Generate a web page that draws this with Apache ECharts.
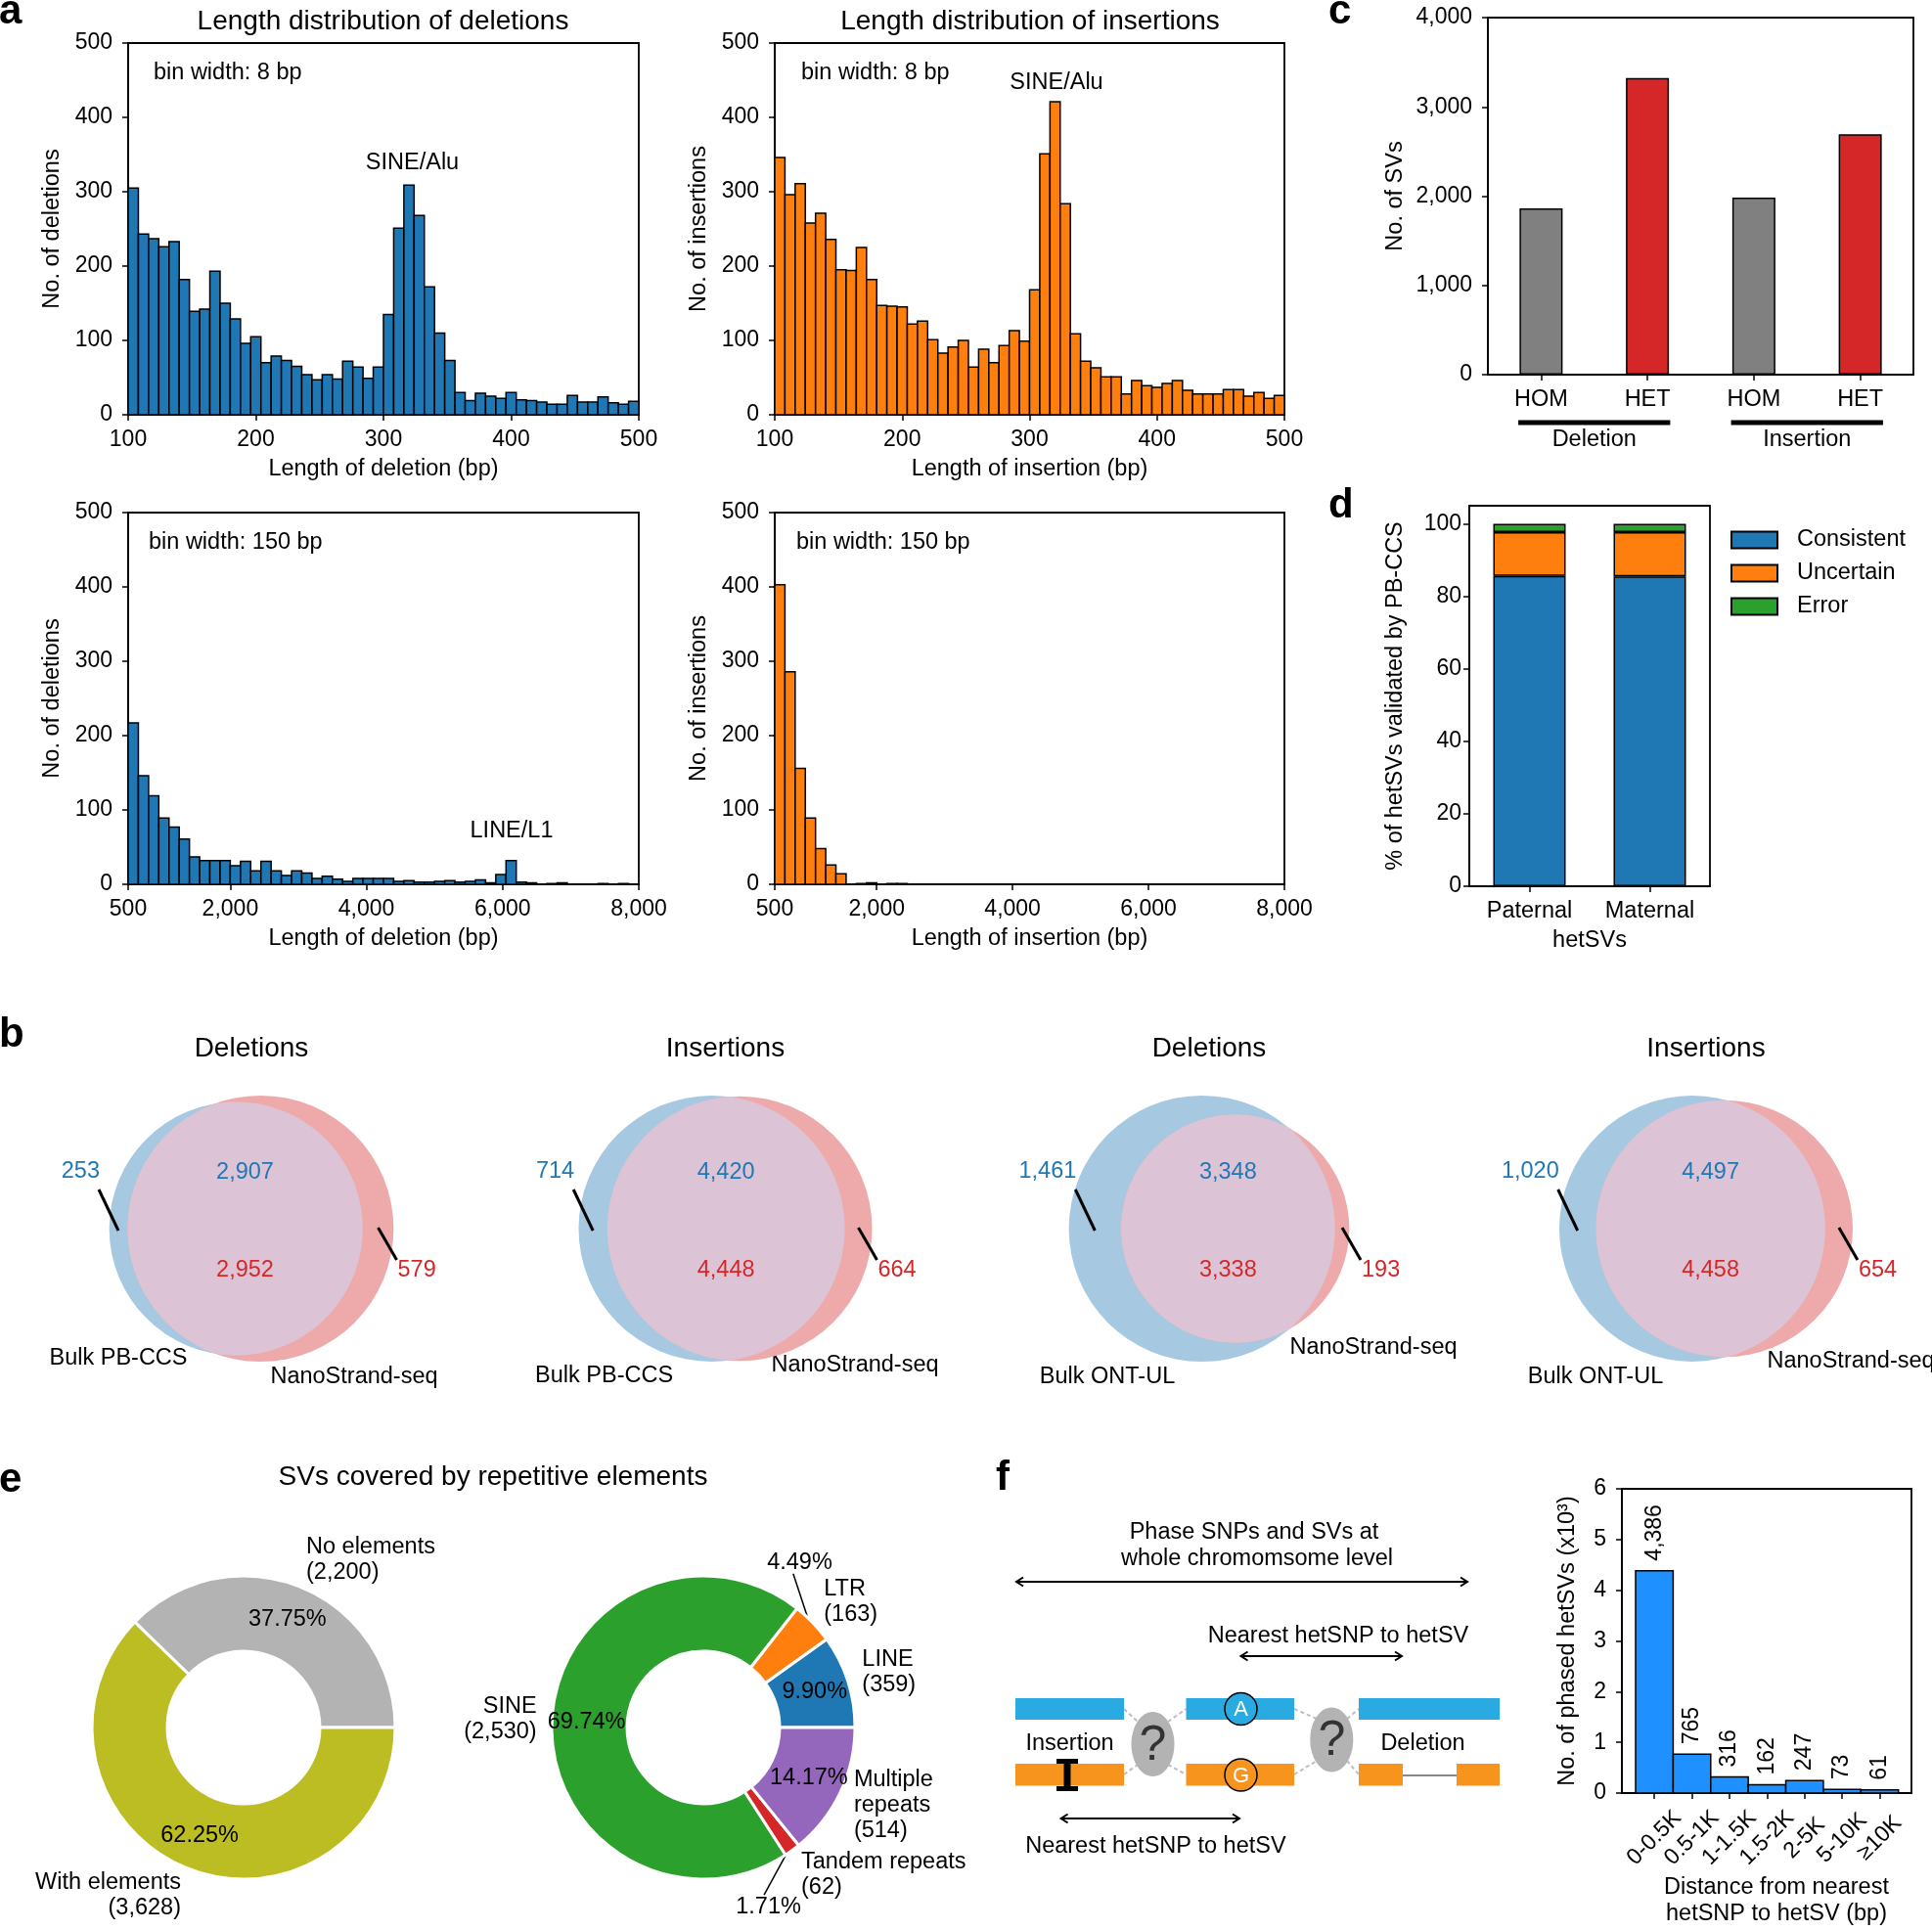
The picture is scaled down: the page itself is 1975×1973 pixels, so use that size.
<!DOCTYPE html>
<html>
<head>
<meta charset="utf-8">
<title>SV characterisation</title>
<script src="https://cdn.jsdelivr.net/npm/echarts@6.0.0/dist/echarts.min.js"></script>
<style>
  html, body { margin: 0; padding: 0; background: #fff; }
  #chart { width: 1975px; height: 1973px; }
</style>
</head>
<body>
<div id="chart"></div>
<script>
// ---------- data ----------
// panel a: length histograms (50 bins each)
const shortStart = 100, shortBin = 8;
const longStart = 500, longBin = 150;
const delShortCounts = [305, 243, 237, 226, 233, 182, 139, 142, 193, 150, 129, 96, 105, 70, 79, 73, 65, 54, 47, 54,
  48, 72, 64, 49, 64, 135, 251, 309, 268, 172, 110, 73, 30, 19, 29, 25, 22, 30, 20, 19,
  17, 14, 14, 26, 17, 17, 24, 16, 14, 18];
const insShortCounts = [346, 296, 311, 258, 271, 236, 195, 194, 225, 182, 147, 146, 145, 122, 126, 101, 83, 91, 100, 64,
  88, 70, 93, 113, 99, 168, 351, 421, 284, 109, 72, 63, 51, 51, 28, 46, 39, 37, 42, 46,
  33, 28, 28, 28, 34, 34, 25, 30, 22, 26];
const delLongCounts = [217, 146, 119, 89, 77, 61, 37, 32, 32, 32, 25, 31, 18, 31, 18, 12, 18, 15, 8, 11,
  7, 4, 8, 8, 8, 8, 4, 5, 3, 3, 4, 5, 3, 4, 6, 2, 13, 32, 3, 2,
  0, 1, 2, 0, 0, 0, 1, 0, 1, 0];
const insLongCounts = [403, 286, 156, 89, 48, 26, 14, 0, 1, 2, 0, 1, 1, 0, 0, 0, 0, 0, 0, 0,
  0, 0, 0, 0, 0, 0, 0, 0, 0, 0, 0, 0, 0, 0, 0, 0, 0, 0, 0, 0,
  0, 0, 0, 0, 0, 0, 0, 0, 0, 0];
const longTicks = [500, 2000, 4000, 6000, 8000];

// panel c
const svTypes = ['Deletion', 'Insertion'];
const genotypes = ['HOM', 'HET'];
const homCounts = [1863, 1984];
const hetCounts = [3324, 2692];

// panel d
const parents = ['Paternal', 'Maternal'];
const consistentPct = [85.6, 85.5];
const uncertainPct = [12.1, 12.2];
const errorPct = [2.3, 2.3];
const pctTicks = [0, 20, 40, 60, 80, 100];

// panel b
const vennTitles = ['Deletions', 'Insertions', 'Deletions', 'Insertions'];
const vennBulkNames = ['Bulk PB-CCS', 'Bulk PB-CCS', 'Bulk ONT-UL', 'Bulk ONT-UL'];
const vennBulkOnly = [253, 714, 1461, 1020];
const vennSharedBulk = [2907, 4420, 3348, 4497];
const vennSharedNano = [2952, 4448, 3338, 4458];
const vennNanoOnly = [579, 664, 193, 654];

// panel e
const coverNames = ['No elements', 'With elements'];
const coverCounts = [2200, 3628];
const repeatNames = ['LINE', 'LTR', 'SINE', 'Tandem repeats', 'Multiple\nrepeats'];
const repeatCounts = [359, 163, 2530, 62, 514];

// panel f
const distBins = ['0-0.5K', '0.5-1K', '1-1.5K', '1.5-2K', '2-5K', '5-10K', '\u226510K'];
const phasedCounts = [4386, 765, 316, 162, 247, 73, 61];

// ---------- style ----------
const FONT = "'Liberation Sans', Arial, Helvetica, sans-serif";
const TICK_FS = 23, NAME_FS = 23.5, TITLE_FS = 28, NOTE_FS = 23.5;
const AXIS_W = 1.8;
const BLUE = '#1f77b4', ORANGE = '#ff7f0e', GREEN = '#2ca02c', RED = '#d62728', PURPLE = '#9467bd';
const fmt = v => Number(v).toLocaleString('en-US');

function merge(base, extra) {
  const out = Object.assign({}, base);
  Object.keys(extra || {}).forEach(k => {
    const v = extra[k];
    const b = base[k];
    out[k] = (v && typeof v === 'object' && !Array.isArray(v) && b && typeof b === 'object' && !Array.isArray(b)) ? merge(b, v) : v;
  });
  return out;
}

function frameGrid(left, top, width, height) {
  return { left, top, width, height, show: true, borderColor: '#000', borderWidth: AXIS_W,
    backgroundColor: 'transparent', containLabel: false, outerBoundsMode: 'none' };
}
function hiddenGrid(left, top, width, height) {
  return { left, top, width, height, show: false, containLabel: false, outerBoundsMode: 'none' };
}

const tickStyle = { show: true, inside: false, length: 6, lineStyle: { color: '#000', width: 1.5 } };
const baseAxis = {
  axisLine: { show: true, onZero: false, lineStyle: { color: '#000', width: AXIS_W } },
  axisTick: tickStyle,
  splitLine: { show: false },
  nameLocation: 'middle',
  nameMoveOverlap: false,
  nameTextStyle: { color: '#000', fontSize: NAME_FS, fontFamily: FONT }
};
function xAxisOf(gridIndex, extra) {
  return merge(merge(baseAxis, {
    type: 'value', gridIndex, position: 'bottom', nameGap: 44,
    axisLabel: { color: '#000', fontSize: TICK_FS, fontFamily: FONT, margin: 14 }
  }), extra);
}
function yAxisOf(gridIndex, extra) {
  return merge(merge(baseAxis, {
    type: 'value', gridIndex, position: 'left', nameGap: 65,
    axisLabel: { color: '#000', fontSize: TICK_FS, fontFamily: FONT, margin: 16 }
  }), extra);
}

// ---------- histogram (custom rects from bin edges) ----------
function histSeries(axisIndex, counts, start, width, color) {
  return {
    type: 'custom', xAxisIndex: axisIndex, yAxisIndex: axisIndex, silent: true,
    data: counts.map((c, i) => [start + i * width, start + (i + 1) * width, c]),
    encode: { x: [0, 1], y: 2 },
    renderItem: (params, api) => {
      const a = api.coord([api.value(0), api.value(2)]);
      const b = api.coord([api.value(1), 0]);
      return { type: 'rect', shape: { x: a[0], y: a[1], width: b[0] - a[0], height: b[1] - a[1] },
        style: { fill: color, stroke: '#000', lineWidth: 1.5 } };
    }
  };
}

// ---------- venn geometry (area proportional) ----------
function lensArea(r1, r2, d) {
  if (d >= r1 + r2) return 0;
  if (d <= Math.abs(r1 - r2)) return Math.PI * Math.min(r1, r2) ** 2;
  const a = r1 * r1 * Math.acos((d * d + r1 * r1 - r2 * r2) / (2 * d * r1));
  const b = r2 * r2 * Math.acos((d * d + r2 * r2 - r1 * r1) / (2 * d * r2));
  const c = 0.5 * Math.sqrt((-d + r1 + r2) * (d + r1 - r2) * (d - r1 + r2) * (d + r1 + r2));
  return a + b - c;
}
const VENN_W = 300, VENN_H = 272, VENN_CY = 1256;
const vennCx = [257, 741.5, 1236, 1744];
const vennGeo = vennTitles.map((t, i) => {
  const shared = (vennSharedBulk[i] + vennSharedNano[i]) / 2;
  const rA = Math.sqrt((vennBulkOnly[i] + shared) / Math.PI);
  const rB = Math.sqrt((vennNanoOnly[i] + shared) / Math.PI);
  let lo = Math.abs(rA - rB) + 1e-6, hi = rA + rB;
  for (let k = 0; k < 80; k++) {
    const mid = (lo + hi) / 2;
    if (lensArea(rA, rB, mid) > shared) lo = mid; else hi = mid;
  }
  const d = (lo + hi) / 2;
  const minX = Math.min(-rA, d - rB), maxX = Math.max(rA, d + rB);
  const maxR = Math.max(rA, rB);
  const s = Math.min(VENN_W / (maxX - minX), VENN_H / (2 * maxR));
  const xc = (minX + maxX) / 2;
  return { rA, rB, d, xMin: xc - VENN_W / 2 / s, xMax: xc + VENN_W / 2 / s, yMin: -VENN_H / 2 / s, yMax: VENN_H / 2 / s };
});

function vennRender(i) {
  const g = vennGeo[i];
  return function (params, api) {
    const cA = api.coord([0, 0]);
    const cB = api.coord([g.d, 0]);
    const ra = api.size([g.rA, 0])[0];
    const rb = api.size([g.rB, 0])[0];
    const xi = (g.d * g.d + g.rA * g.rA - g.rB * g.rB) / (2 * g.d);
    const yi = Math.sqrt(Math.max(0, g.rA * g.rA - xi * xi));
    const aA = Math.atan2(yi, xi);
    const aB = Math.atan2(yi, xi - g.d);
    const lens = [];
    for (let k = 0; k <= 80; k++) {
      const t = -aA + 2 * aA * k / 80;
      lens.push(api.coord([g.rA * Math.cos(t), g.rA * Math.sin(t)]));
    }
    for (let k = 0; k <= 80; k++) {
      const t = aB + (2 * Math.PI - 2 * aB) * k / 80;
      lens.push(api.coord([g.d + g.rB * Math.cos(t), g.rB * Math.sin(t)]));
    }
    const cy = cA[1];
    const xL = ((cA[0] - ra) + (cB[0] - rb)) / 2;
    const xR = ((cA[0] + ra) + (cB[0] + rb)) / 2;
    const xM = ((cB[0] - rb) + (cA[0] + ra)) / 2;
    const label = (x, y, text, color, align) => ({ type: 'text', x, y,
      style: { text, fill: color, fontSize: NOTE_FS, fontFamily: FONT, align, verticalAlign: 'middle' } });
    return { type: 'group', children: [
      { type: 'circle', shape: { cx: cA[0], cy, r: ra }, style: { fill: '#a6c8e0' } },
      { type: 'circle', shape: { cx: cB[0], cy: cB[1], r: rb }, style: { fill: '#eeaaaa' } },
      { type: 'polygon', shape: { points: lens }, style: { fill: '#dcc4d6' } },
      { type: 'line', shape: { x1: xL, y1: cy + 2, x2: xL - 20, y2: cy - 40 }, style: { stroke: '#000', lineWidth: 3 } },
      { type: 'line', shape: { x1: xR, y1: cy - 1, x2: xR + 19, y2: cy + 32 }, style: { stroke: '#000', lineWidth: 3 } },
      label(xL - 19, cy - 58, fmt(vennBulkOnly[i]), BLUE, 'right'),
      label(xR + 20, cy + 43, fmt(vennNanoOnly[i]), RED, 'left'),
      label(xM, cy - 57, fmt(vennSharedBulk[i]), BLUE, 'center'),
      label(xM, cy + 43, fmt(vennSharedNano[i]), RED, 'center')
    ] };
  };
}

// ---------- donut helpers ----------
function midAngles(counts) {
  const total = counts.reduce((a, b) => a + b, 0);
  let acc = 0;
  return counts.map(c => { const m = (acc + c / 2) / total * 2 * Math.PI; acc += c; return m; });
}
function nameLayout(center, rOuter, counts) {
  const mids = midAngles(counts);
  return p => {
    const t = mids[p.dataIndex];
    const R = rOuter * 1.1;
    return { x: center[0] + R * Math.cos(t), y: center[1] - (R + 15) * Math.sin(t),
      align: Math.cos(t) < 0 ? 'right' : 'left', verticalAlign: 'middle' };
  };
}
function pctLayout(center, rOuter, counts) {
  const mids = midAngles(counts);
  const total = counts.reduce((a, b) => a + b, 0);
  const pt = (r, a) => [center[0] + r * Math.cos(a), center[1] - r * Math.sin(a)];
  return p => {
    if (counts[p.dataIndex] / total >= 0.05) return {};
    const t = mids[p.dataIndex];
    const t2 = t + (Math.sin(t) > 0 ? 1 : -1) * 16 * Math.PI / 180;
    const tx = pt(rOuter * 1.26, t2);
    const end = pt(rOuter * 1.175, t2);
    return { x: tx[0], y: tx[1], align: 'center', verticalAlign: 'middle',
      labelLinePoints: [pt(rOuter * 0.975, t), end, end] };
  };
}
function donutSeries(center, names, counts, colors) {
  const radius = [78, 155];
  const total = counts.reduce((a, b) => a + b, 0);
  const common = { type: 'pie', center, radius, startAngle: 0, clockwise: false, silent: true,
    avoidLabelOverlap: false, emphasis: { disabled: true } };
  return [
    Object.assign({}, common, {
      data: names.map((n, i) => {
        const small = counts[i] / total < 0.05;
        return { name: n, value: counts[i], itemStyle: { color: colors[i] },
          label: { position: small ? 'outside' : 'inside' },
          labelLine: { show: small, length: 10, length2: 0, lineStyle: { color: '#000', width: 1.5 } } };
      }),
      itemStyle: { borderColor: '#fff', borderWidth: 3 },
      label: { show: true, formatter: p => (p.value / total * 100).toFixed(2) + '%', fontSize: NOTE_FS,
        fontFamily: FONT, color: '#000', textBorderWidth: 0 },
      labelLayout: pctLayout(center, radius[1], counts)
    }),
    Object.assign({}, common, {
      data: names.map((n, i) => ({ name: n, value: counts[i] })),
      itemStyle: { color: 'rgba(0,0,0,0)', borderWidth: 0 },
      label: { show: true, position: 'outside', formatter: p => p.name + '\n(' + fmt(p.value) + ')',
        fontSize: NOTE_FS, lineHeight: 26, fontFamily: FONT, color: '#000' },
      labelLine: { show: false },
      labelLayout: nameLayout(center, radius[1], counts)
    })
  ];
}

// ---------- graphic helpers ----------
function txt(x, y, text, o) {
  return { type: 'text', x, y, silent: true,
    style: Object.assign({ text, fontFamily: FONT, fontSize: NOTE_FS, fill: '#000', align: 'left', verticalAlign: 'middle' }, o || {}) };
}
function letter(x, y, t) { return txt(x, y, t, { fontSize: 42, fontWeight: 'bold' }); }
function dblArrow(x1, x2, y) {
  const h = 7, w = 4.5, st = { stroke: '#000', lineWidth: 2, fill: null };
  return [
    { type: 'line', silent: true, shape: { x1, y1: y, x2, y2: y }, style: st },
    { type: 'polyline', silent: true, shape: { points: [[x1 + h, y - w], [x1, y], [x1 + h, y + w]] }, style: st },
    { type: 'polyline', silent: true, shape: { points: [[x2 - h, y - w], [x2, y], [x2 - h, y + w]] }, style: st }
  ];
}
function rect(x1, y1, x2, y2, fill) {
  return { type: 'rect', silent: true, shape: { x: x1, y: y1, width: x2 - x1, height: y2 - y1 }, style: { fill } };
}
function dash(x1, y1, x2, y2) {
  return { type: 'line', silent: true, shape: { x1, y1, x2, y2 }, style: { stroke: '#bdbdbd', lineWidth: 2, lineDash: [4, 3] } };
}

const SKY = '#29abe2', AMBER = '#f7941d';
const diagram = [
  txt(1282, 1567, 'Phase SNPs and SVs at', { align: 'center' }),
  txt(1285, 1594, 'whole chromomsome level', { align: 'center' }),
  ...dblArrow(1039, 1500, 1617),
  txt(1368, 1673, 'Nearest hetSNP to hetSV', { align: 'center' }),
  ...dblArrow(1268.5, 1433, 1693),
  dash(1149, 1747, 1163, 1760), dash(1194, 1760, 1212.5, 1747),
  dash(1149, 1814, 1163, 1804), dash(1194, 1804, 1212.5, 1814),
  dash(1323, 1747, 1346, 1757), dash(1377, 1757, 1389, 1747),
  dash(1323, 1814, 1346, 1800), dash(1377, 1800, 1389, 1814),
  rect(1038, 1736, 1149, 1758, SKY), rect(1212.5, 1736, 1323, 1758, SKY), rect(1389, 1736, 1533, 1758, SKY),
  rect(1038, 1803, 1149, 1825.5, AMBER), rect(1212.5, 1803, 1323, 1825.5, AMBER),
  rect(1389, 1803, 1434, 1825.5, AMBER), rect(1489, 1803, 1533, 1825.5, AMBER),
  { type: 'line', silent: true, shape: { x1: 1434, y1: 1815, x2: 1489, y2: 1815 }, style: { stroke: '#888', lineWidth: 2 } },
  rect(1087.5, 1798, 1094.5, 1831, '#000'), rect(1080, 1798, 1102, 1803, '#000'), rect(1080, 1826, 1102, 1831, '#000'),
  { type: 'ellipse', silent: true, shape: { cx: 1178.5, cy: 1783, rx: 22, ry: 33 }, style: { fill: '#b3b3b3' } },
  { type: 'ellipse', silent: true, shape: { cx: 1361.3, cy: 1778.5, rx: 22, ry: 33 }, style: { fill: '#b3b3b3' } },
  txt(1178.5, 1785, '?', { align: 'center', fontSize: 50, fill: '#333' }),
  txt(1361.3, 1780, '?', { align: 'center', fontSize: 50, fill: '#333' }),
  { type: 'circle', silent: true, shape: { cx: 1268.5, cy: 1747, r: 16.5 }, style: { fill: SKY, stroke: '#000', lineWidth: 1.5 } },
  { type: 'circle', silent: true, shape: { cx: 1268.5, cy: 1814.5, r: 16.5 }, style: { fill: AMBER, stroke: '#000', lineWidth: 1.5 } },
  txt(1268.5, 1748, 'A', { align: 'center', fill: '#fff', fontSize: 22 }),
  txt(1268.5, 1815.5, 'G', { align: 'center', fill: '#fff', fontSize: 22 }),
  txt(1093.5, 1783, 'Insertion', { align: 'center' }),
  txt(1454.5, 1783, 'Deletion', { align: 'center' }),
  ...dblArrow(1084.6, 1267, 1859),
  txt(1181.4, 1888, 'Nearest hetSNP to hetSV', { align: 'center' })
];

const annotations = [
  letter(-1, 12, 'a'), letter(1358, 12, 'c'), letter(1358, 517, 'd'),
  letter(-1, 1058, 'b'), letter(-1, 1513, 'e'), letter(1018, 1511, 'f'),
  txt(391.5, 22, 'Length distribution of deletions', { align: 'center', fontSize: TITLE_FS }),
  txt(1053, 22, 'Length distribution of insertions', { align: 'center', fontSize: TITLE_FS }),
  txt(157, 75, 'bin width: ' + shortBin + ' bp'),
  txt(819, 75, 'bin width: ' + shortBin + ' bp'),
  txt(152, 555, 'bin width: ' + longBin + ' bp'),
  txt(814, 555, 'bin width: ' + longBin + ' bp'),
  txt(421.5, 167, 'SINE/Alu', { align: 'center' }),
  txt(1080, 85, 'SINE/Alu', { align: 'center' }),
  txt(523, 850, 'LINE/L1', { align: 'center' }),
  ...vennTitles.map((t, i) => txt(vennCx[i], 1072, t, { align: 'center', fontSize: TITLE_FS })),
  txt(121, 1389, vennBulkNames[0], { align: 'center' }),
  txt(362, 1408, 'NanoStrand-seq', { align: 'center' }),
  txt(617.6, 1407, vennBulkNames[1], { align: 'center' }),
  txt(874, 1396, 'NanoStrand-seq', { align: 'center' }),
  txt(1132, 1408, vennBulkNames[2], { align: 'center' }),
  txt(1404, 1378, 'NanoStrand-seq', { align: 'center' }),
  txt(1631, 1408, vennBulkNames[3], { align: 'center' }),
  txt(1806.5, 1392, 'NanoStrand-seq'),
  txt(504, 1510, 'SVs covered by repetitive elements', { align: 'center', fontSize: TITLE_FS })
];

// ---------- option ----------
const svCategories = [];
const svValues = [];
svTypes.forEach((t, i) => {
  svCategories.push(t + ' ' + genotypes[0], t + ' ' + genotypes[1]);
  svValues.push(homCounts[i], hetCounts[i]);
});
const distIdx = distBins.map((b, i) => i);

const option = {
  animation: false,
  textStyle: { fontFamily: FONT },
  grid: [
    frameGrid(131, 44, 522, 380),
    frameGrid(792, 44, 521, 380),
    frameGrid(131, 524, 522, 380),
    frameGrid(792, 524, 521, 380),
    frameGrid(1521, 18, 435, 365),
    frameGrid(1502, 517, 246, 389),
    ...vennCx.map(cx => hiddenGrid(cx - VENN_W / 2, VENN_CY - VENN_H / 2, VENN_W, VENN_H)),
    frameGrid(1658, 1522, 296, 311)
  ],
  xAxis: [
    xAxisOf(0, { min: 100, max: 500, interval: 100, name: 'Length of deletion (bp)' }),
    xAxisOf(1, { min: 100, max: 500, interval: 100, name: 'Length of insertion (bp)' }),
    xAxisOf(2, { min: 500, max: 8000, name: 'Length of deletion (bp)',
      axisTick: { customValues: longTicks }, axisLabel: { customValues: longTicks, formatter: fmt } }),
    xAxisOf(3, { min: 500, max: 8000, name: 'Length of insertion (bp)',
      axisTick: { customValues: longTicks }, axisLabel: { customValues: longTicks, formatter: fmt } }),
    xAxisOf(4, { type: 'category', data: svCategories, axisTick: { alignWithLabel: true },
      axisLabel: { fontSize: NAME_FS, margin: 14, formatter: v => v.split(' ')[1] } }),
    { type: 'category', gridIndex: 4, position: 'bottom', offset: 40, data: svTypes,
      axisLine: { show: false }, axisTick: { show: false }, splitLine: { show: false },
      axisLabel: { color: '#000', fontSize: NAME_FS, fontFamily: FONT, margin: 15 } },
    xAxisOf(5, { type: 'category', data: parents, axisTick: { alignWithLabel: true }, name: 'hetSVs', nameGap: 44,
      axisLabel: { fontSize: NAME_FS, margin: 14 } }),
    ...vennGeo.map((g, i) => ({ type: 'value', gridIndex: 6 + i, show: false, min: g.xMin, max: g.xMax })),
    xAxisOf(10, { min: -0.865, max: 6.846,
      axisTick: { customValues: distIdx },
      axisLabel: { customValues: distIdx, formatter: v => distBins[Math.round(v)], rotate: 45,
        align: 'center', verticalAlign: 'middle', margin: 46 },
      name: 'Distance from nearest\nhetSNP to hetSV (bp)', nameGap: 83,
      nameTextStyle: { lineHeight: 27, padding: [0, 0, 0, 20] } })
  ],
  yAxis: [
    yAxisOf(0, { min: 0, max: 500, interval: 100, name: 'No. of deletions' }),
    yAxisOf(1, { min: 0, max: 500, interval: 100, name: 'No. of insertions' }),
    yAxisOf(2, { min: 0, max: 500, interval: 100, name: 'No. of deletions' }),
    yAxisOf(3, { min: 0, max: 500, interval: 100, name: 'No. of insertions' }),
    yAxisOf(4, { min: 0, max: 4000, interval: 1000, name: 'No. of SVs', nameGap: 82,
      axisLabel: { formatter: fmt } }),
    yAxisOf(5, { min: 0, max: 105, name: '% of hetSVs validated by PB-CCS', nameGap: 63,
      axisTick: { customValues: pctTicks }, axisLabel: { customValues: pctTicks, margin: 8 } }),
    ...vennGeo.map((g, i) => ({ type: 'value', gridIndex: 6 + i, show: false, min: g.yMin, max: g.yMax })),
    yAxisOf(10, { min: 0, max: 6, interval: 1, name: 'No. of phased hetSVs (x10\u00b3)', nameGap: 43 })
  ],
  legend: [{
    data: ['Consistent', 'Uncertain', 'Error'], orient: 'vertical', left: 1764, top: 535,
    itemWidth: 47, itemHeight: 17, itemGap: 10, icon: 'rect', selectedMode: false,
    textStyle: { fontSize: NAME_FS, fontFamily: FONT, color: '#000', padding: [0, 0, 0, 15] }
  }],
  graphic: { elements: annotations.concat(diagram) },
  series: [
    histSeries(0, delShortCounts, shortStart, shortBin, BLUE),
    histSeries(1, insShortCounts, shortStart, shortBin, ORANGE),
    histSeries(2, delLongCounts, longStart, longBin, BLUE),
    histSeries(3, insLongCounts, longStart, longBin, ORANGE),
    {
      type: 'bar', xAxisIndex: 4, yAxisIndex: 4, barWidth: 44, silent: true,
      data: svValues.map((v, i) => ({ value: v, itemStyle: { color: i % 2 ? RED : '#808080' } })),
      itemStyle: { borderColor: '#000', borderWidth: 1.5 }
    },
    {
      type: 'custom', xAxisIndex: 5, yAxisIndex: 4, clip: false, silent: true,
      data: svTypes.map((t, i) => [i, 0]), encode: { x: 0, y: 1 },
      renderItem: (params, api) => {
        const p = api.coord([api.value(0), 0]);
        const band = api.size([1, 0])[0];
        return { type: 'line', shape: { x1: p[0] - 0.357 * band, y1: p[1] + 49, x2: p[0] + 0.357 * band, y2: p[1] + 49 },
          style: { stroke: '#000', lineWidth: 5 } };
      }
    },
    ...[['Consistent', consistentPct, BLUE], ['Uncertain', uncertainPct, ORANGE], ['Error', errorPct, GREEN]].map(s => ({
      name: s[0], type: 'bar', stack: 'valid', xAxisIndex: 6, yAxisIndex: 5, barWidth: 74, silent: true,
      data: s[1], itemStyle: { color: s[2], borderColor: '#000', borderWidth: 1.5 }
    })),
    ...vennGeo.map((g, i) => ({
      type: 'custom', xAxisIndex: 7 + i, yAxisIndex: 6 + i, clip: false, silent: true,
      data: [[0, 0]], encode: { x: 0, y: 1 }, renderItem: vennRender(i)
    })),
    {
      type: 'custom', xAxisIndex: 11, yAxisIndex: 10, silent: true, clip: false,
      data: phasedCounts.map((c, i) => [i, c / 1000]), encode: { x: 0, y: 1 },
      renderItem: (params, api) => {
        const i = api.value(0);
        const a = api.coord([i - 0.5, api.value(1)]);
        const b = api.coord([i + 0.5, 0]);
        return { type: 'group', children: [
          { type: 'rect', shape: { x: a[0], y: a[1], width: b[0] - a[0], height: b[1] - a[1] },
            style: { fill: '#1e90ff', stroke: '#000', lineWidth: 1.5 } },
          { type: 'text', x: (a[0] + b[0]) / 2, y: a[1] - 10, rotation: Math.PI / 2,
            style: { text: fmt(phasedCounts[params.dataIndex]), align: 'left', verticalAlign: 'middle',
              fontSize: TICK_FS, fontFamily: FONT, fill: '#000' } }
        ] };
      }
    },
    ...donutSeries([249, 1766], coverNames, coverCounts, ['#b3b3b3', '#bcbd22']),
    ...donutSeries([719, 1766], repeatNames, repeatCounts, [BLUE, ORANGE, GREEN, RED, PURPLE])
  ]
};

const chart = echarts.init(document.getElementById('chart'), null, { renderer: 'canvas' });
chart.setOption(option);
</script>
</body>
</html>
